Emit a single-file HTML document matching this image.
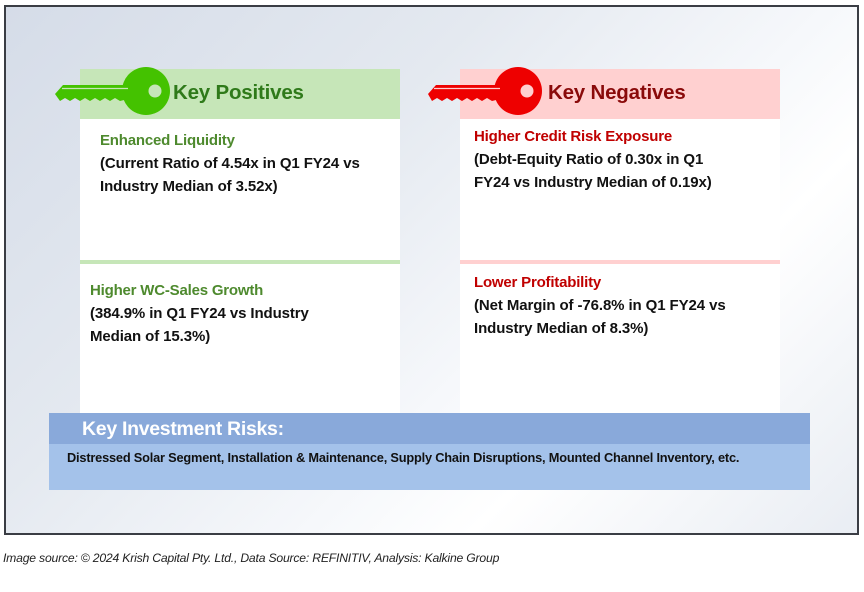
<!DOCTYPE html>
<html><head><meta charset="utf-8"><style>
*{margin:0;padding:0;box-sizing:border-box}
body{width:864px;height:592px;background:#fff;position:relative;overflow:hidden;font-family:"Liberation Sans",sans-serif}
.frame{position:absolute;left:4px;top:5px;width:855px;height:530px;border:2px solid #3a3d44;background:linear-gradient(135deg,#d5dce8 0%,#e4e9f0 35%,#f6f8fb 60%,#ffffff 72%,#e9edf3 100%)}
.abs{position:absolute}
.hdr{font-weight:bold;font-size:20.5px;letter-spacing:-0.2px}
.t{font-weight:bold;font-size:15px;letter-spacing:-0.2px}
.b{font-weight:bold;font-size:15px;line-height:23px;color:#111;letter-spacing:-0.1px}
</style></head><body>
<div class="frame"></div>

<div class="abs" style="left:80px;top:69px;width:320px;height:50px;background:#c6e6b8"></div>
<div class="abs" style="left:80px;top:119px;width:320px;height:141px;background:#fff"></div>
<div class="abs" style="left:80px;top:260px;width:320px;height:4px;background:#c6e6b8"></div>
<div class="abs" style="left:80px;top:264px;width:320px;height:150px;background:#fff"></div>

<div class="abs" style="left:460px;top:69px;width:320px;height:50px;background:#ffd0d0"></div>
<div class="abs" style="left:460px;top:119px;width:320px;height:141px;background:#fff"></div>
<div class="abs" style="left:460px;top:260px;width:320px;height:4px;background:#ffd0d0"></div>
<div class="abs" style="left:460px;top:264px;width:320px;height:150px;background:#fff"></div>

<svg class="abs" style="left:0;top:0" width="864" height="592">
<g fill="#44c200">
<polygon points="55,94 63,85 132,85 132,98 120,101 115,98 110,101 105,98 100,101 95,98 90,101 85,98 80,101 75,98 70,101 65,98 60,101"/>
<circle cx="146" cy="91" r="24"/>
<line x1="62" y1="88.5" x2="128" y2="88.5" stroke="#c6e6b8" stroke-width="1.2"/>
<circle cx="155" cy="91" r="6.5" fill="#c6e6b8"/>
</g>
<g fill="#ee0000">
<polygon points="428,94 436,85 504,85 504,98 492,101 487,98 482,101 477,98 472,101 467,98 462,101 457,98 452,101 447,98 442,101 437,98 432,101"/>
<circle cx="518" cy="91" r="24"/>
<line x1="434" y1="88.5" x2="500" y2="88.5" stroke="#ffd0d0" stroke-width="1.2"/>
<circle cx="527" cy="91" r="6.5" fill="#ffd0d0"/>
</g>
</svg>

<div class="abs hdr" style="left:173px;top:81px;color:#2f7a1a">Key Positives</div>
<div class="abs hdr" style="left:548px;top:81px;color:#8a0a0a">Key Negatives</div>

<div class="abs t" style="left:100px;top:132px;color:#4e8a2e">Enhanced Liquidity</div>
<div class="abs b" style="left:100px;top:152px;width:300px">(Current Ratio of 4.54x in Q1 FY24 vs<br>Industry Median of 3.52x)</div>

<div class="abs t" style="left:90px;top:282px;color:#4e8a2e">Higher WC-Sales Growth</div>
<div class="abs b" style="left:90px;top:302px;width:300px">(384.9% in Q1 FY24 vs Industry<br>Median of 15.3%)</div>

<div class="abs t" style="left:474px;top:128px;color:#c00000">Higher Credit Risk Exposure</div>
<div class="abs b" style="left:474px;top:148px;width:300px">(Debt-Equity Ratio of 0.30x in Q1<br>FY24 vs Industry Median of 0.19x)</div>

<div class="abs t" style="left:474px;top:274px;color:#c00000">Lower Profitability</div>
<div class="abs b" style="left:474px;top:294px;width:300px">(Net Margin of -76.8% in Q1 FY24 vs<br>Industry Median of 8.3%)</div>

<div class="abs" style="left:49px;top:413px;width:761px;height:31px;background:#89a9da"></div>
<div class="abs" style="left:49px;top:444px;width:761px;height:46px;background:#a4c2ea"></div>
<div class="abs" style="left:82px;top:418px;font-weight:bold;font-size:19.5px;color:#fff;letter-spacing:-0.3px">Key Investment Risks:</div>
<div class="abs" style="left:67px;top:450px;font-weight:bold;font-size:12.8px;color:#111;letter-spacing:-0.2px;white-space:nowrap">Distressed Solar Segment, Installation &amp; Maintenance, Supply Chain Disruptions, Mounted Channel Inventory, etc.</div>

<div class="abs" style="left:3px;top:551px;font-style:italic;font-size:12.2px;color:#222;letter-spacing:-0.2px;white-space:nowrap">Image source: © 2024 Krish Capital Pty. Ltd., Data Source: REFINITIV, Analysis: Kalkine Group</div>
</body></html>
